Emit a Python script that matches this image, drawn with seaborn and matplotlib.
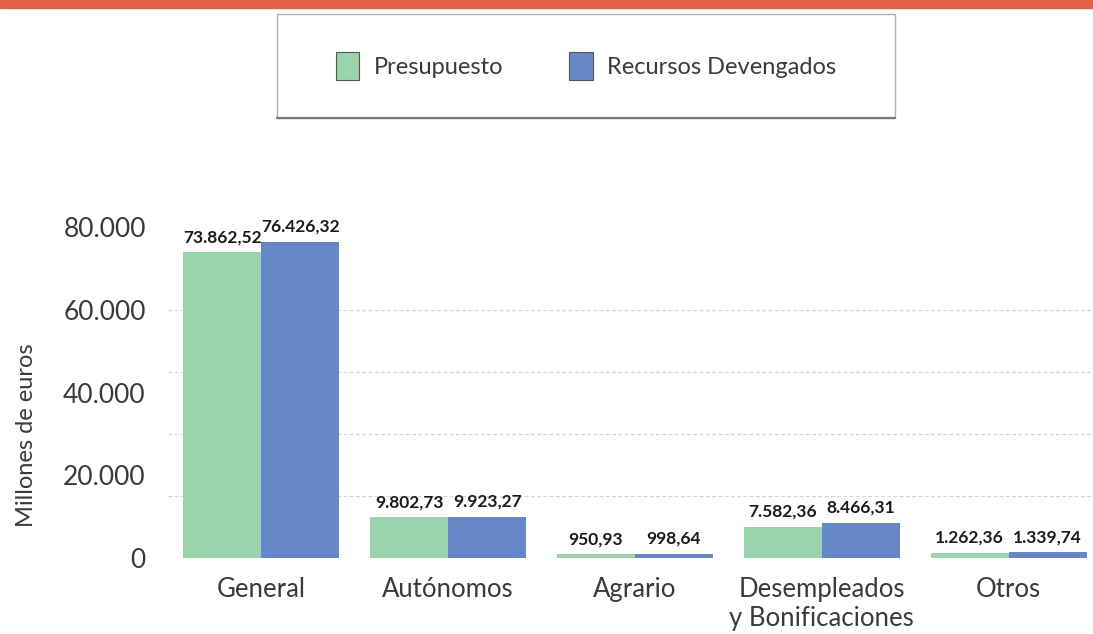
import pandas as pd
import seaborn as sns
import matplotlib.pyplot as plt
from matplotlib.patches import Rectangle, Patch

# Data
categorias = ['General', 'Autónomos', 'Agrario', 'Desempleados\ny Bonificaciones', 'Otros']
presupuesto = [73862.52, 9802.73, 950.93, 7582.36, 1262.36]
devengados = [76426.32, 9923.27, 998.64, 8466.31, 1339.74]
series = ['Presupuesto', 'Recursos Devengados']
y_ticks = [0, 20000, 40000, 60000, 80000]
y_tick_labels = ['0', '20.000', '40.000', '60.000', '80.000']
grid_vals = [0, 15000, 30000, 45000, 60000]

df = pd.DataFrame({
    'Categoria': categorias * 2,
    'Serie': [series[0]] * 5 + [series[1]] * 5,
    'Valor': presupuesto + devengados,
})

def fmt_es(v):
    s = f'{v:,.2f}'
    return s.replace(',', 'X').replace('.', ',').replace('X', '.')

sns.set_style('white')
plt.rcParams['font.family'] = ['Lato', 'DejaVu Sans']

txt = '#3a3a3a'

fig = plt.figure(figsize=(10.93, 6.34), dpi=100)
ax = fig.add_axes([0.1537, 0.1199, 0.846, 0.522])
ax.set_axisbelow(True)

colors = ['#9bd3ad', '#6688c8']
sns.barplot(data=df, x='Categoria', y='Valor', hue='Serie', palette=colors,
            width=0.834, saturation=1, linewidth=0, ax=ax, legend=False, zorder=3)

# gridlines every 15.000 (as in the original)
for g in grid_vals:
    ax.axhline(g, linestyle=(0, (3, 2)), color='#d4d4d4', linewidth=0.9, zorder=0)

# data labels
for container in ax.containers:
    labels = [fmt_es(b.get_height()) for b in container]
    ax.bar_label(container, labels=labels, padding=5, fontsize=12.5,
                 fontweight='bold', color='#1a1a1a')

ax.set_xlim(-0.5, 4.45)
ax.set_ylim(0, 80000)
ax.set_yticks(y_ticks)
ax.set_yticklabels(y_tick_labels)
ax.grid(False)
ax.tick_params(axis='y', length=0, pad=16, labelsize=19, labelcolor=txt)
ax.tick_params(axis='x', length=0, pad=14, labelsize=18.5, labelcolor=txt)
for t in ax.get_xticklabels():
    t.set_linespacing(1.2)
ax.set_xlabel('')
ax.set_ylabel('Millones de euros', fontsize=17, color=txt)
ax.yaxis.set_label_coords(-0.142, 0.37)
for s in ax.spines.values():
    s.set_visible(False)

# red band on top
fig.patches.append(Rectangle((0, 1 - 8 / 634), 1, 8 / 634, transform=fig.transFigure,
                             color='#e0604a', zorder=5))

# legend box
handles = [Patch(facecolor=colors[0], edgecolor='#555555', linewidth=0.8),
           Patch(facecolor=colors[1], edgecolor='#555555', linewidth=0.8)]
leg = fig.legend(handles, series, loc='center',
                 bbox_to_anchor=(277 / 1093, 1 - 118 / 634, 618 / 1093, 104 / 634),
                 ncol=2, fontsize=17, frameon=False,
                 handlelength=1.0, handleheight=1.5, handletextpad=0.6, columnspacing=2.8)
for t in leg.get_texts():
    t.set_color(txt)
fig.patches.append(Rectangle((277 / 1093, 1 - 118 / 634), 618 / 1093, 104 / 634,
                             transform=fig.transFigure, fill=False, edgecolor='#b0b0b0', linewidth=1.0))
fig.add_artist(plt.Line2D([277 / 1093, 895 / 1093], [1 - 118 / 634, 1 - 118 / 634],
                          transform=fig.transFigure, color='#777777', linewidth=1.6))

fig.savefig('out.png', dpi=100)
